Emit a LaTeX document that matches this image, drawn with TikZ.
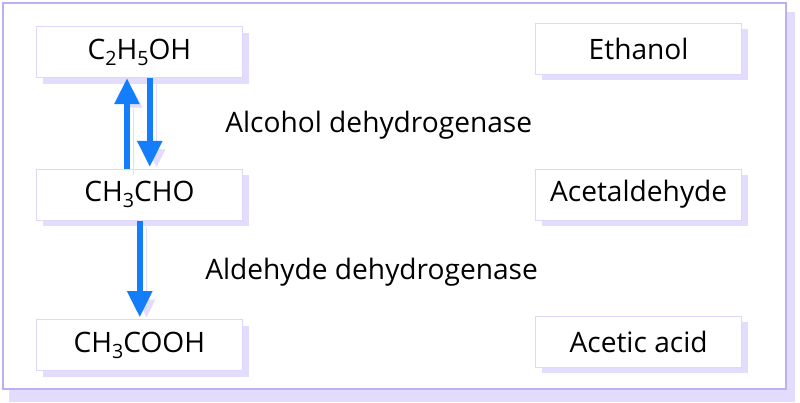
\documentclass[tikz,border=0pt]{standalone}
\usepackage{fontspec}
\setmainfont{Open Sans}
\usepackage{tikz}
\usetikzlibrary{matrix,arrows.meta,shadows}

\definecolor{arrowblue}{RGB}{20,125,250}
\definecolor{frameline}{RGB}{190,176,240}
\definecolor{boxline}{RGB}{222,214,252}
\definecolor{shadowlilac}{RGB}{228,220,252}
\newcommand{\chemsub}[1]{\raisebox{-0.21em}{\fontsize{14}{14}\selectfont #1}}

\begin{document}
\begin{tikzpicture}[x=0.025cm, y=-0.025cm,
  font=\fontsize{20}{24}\selectfont,
  box/.style={draw=boxline, fill=white, line width=0.8pt, inner sep=0pt,
    minimum width=5.15cm, minimum height=1.27cm,
    drop shadow={shadow xshift=0.17cm, shadow yshift=-0.15cm, fill=shadowlilac, opacity=1}},
  reaction/.style={draw=arrowblue, line width=0.14cm, -{Triangle[width=0.6cm,length=0.65cm]},
    preaction={draw=shadowlilac, transform canvas={xshift=0.17cm, yshift=-0.15cm}}},
  enzyme/.style={inner sep=0pt, anchor=base west}]
  \useasboundingbox (0,0) rectangle (800,402);
  % outer frame with its shadow
  \fill[shadowlilac] (9,12) rectangle (795,402);
  \draw[frameline, line width=1.4pt, fill=white] (3,3) rectangle (786,389);
  \matrix (m) [matrix of nodes, nodes={box}, row sep=2.2625cm, column sep=7.3cm] at (389,197)
  {
   C\chemsub{2}H\chemsub{5}OH & Ethanol \\
   CH\chemsub{3}CHO & Acetaldehyde \\[0.1125cm]
   CH\chemsub{3}COOH & Acetic acid \\
  };
  \draw[reaction] ([xshift=-0.31cm]m-2-1.north) -- ([xshift=-0.31cm]m-1-1.south);
  \draw[reaction] ([xshift=0.26cm]m-1-1.south) -- ([xshift=0.26cm,yshift=0.05cm]m-2-1.north);
  \draw[reaction] ([xshift=0.01cm]m-2-1.south) -- ([xshift=0.01cm,yshift=0.05cm]m-3-1.north);
  \node[enzyme] (adh) at (225,132) {Alcohol dehydrogenase};
  \node[enzyme] (aldh) at (205,279) {Aldehyde dehydrogenase};
\end{tikzpicture}
\end{document}
